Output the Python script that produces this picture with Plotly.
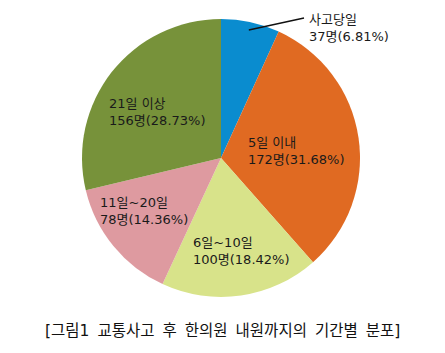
import math
import plotly.graph_objects as go

categories = ["사고당일", "5일 이내", "6일~10일", "11일~20일", "21일 이상"]
counts = [37, 172, 100, 78, 156]
percents = ["6.81%", "31.68%", "18.42%", "14.36%", "28.73%"]
colors = ["#0A8CCF", "#E06A22", "#D8E38A", "#DE9AA0", "#77923A"]
caption = "[그림1 교통사고 후 한의원 내원까지의 기간별 분포]"

W, H = 445, 353
cx, cy, r = 221, 158, 139
dom_x = [(cx - r) / W, (cx + r) / W]
dom_y = [1 - (cy + r) / H, 1 - (cy - r) / H]

fig = go.Figure(go.Pie(
    labels=categories, values=counts, sort=False, direction="clockwise",
    rotation=0, marker=dict(colors=colors, line=dict(width=0)),
    textinfo="none", hoverinfo="label+value", showlegend=False,
    domain=dict(x=dom_x, y=dom_y),
))

# label positions (pixel, left edge of text, center of the two-line block)
label_pos = [(307, 28), (246, 151), (191, 251), (98, 211), (107, 112)]
family = "DejaVu Sans, Noto Sans CJK KR, sans-serif"
font = dict(family=family, size=13, color="#1a1a1a")
anns = []
for cat, n, p, (px, py) in zip(categories, counts, percents, label_pos):
    anns.append(dict(
        x=px / W, y=1 - py / H, xref="paper", yref="paper",
        xanchor="left", yanchor="middle", align="left", showarrow=False,
        text=f"{cat}<br>{n}명({p})", font=font,
    ))
anns.append(dict(
    x=0.5, y=1 - 331 / H, xref="paper", yref="paper", xanchor="center",
    yanchor="middle", showarrow=False,
    text=caption.replace(" ", "\u00a0\u2009"),
    font=dict(family=family, size=15.5, color="#111111"),
))

# leader line for first slice, from its mid angle
total = sum(counts)
mid = counts[0] / total * math.pi
sx = cx + (r - 8) * math.sin(mid)
sy = cy - (r - 8) * math.cos(mid)
shapes = [dict(type="line", xref="paper", yref="paper",
               x0=sx / W, y0=1 - sy / H, x1=304 / W, y1=1 - 18 / H,
               line=dict(color="#111111", width=1.3))]

fig.update_layout(width=W, height=H, margin=dict(l=0, r=0, t=0, b=0),
                  paper_bgcolor="white", plot_bgcolor="white",
                  annotations=anns, shapes=shapes)
fig.write_html("out.html")
